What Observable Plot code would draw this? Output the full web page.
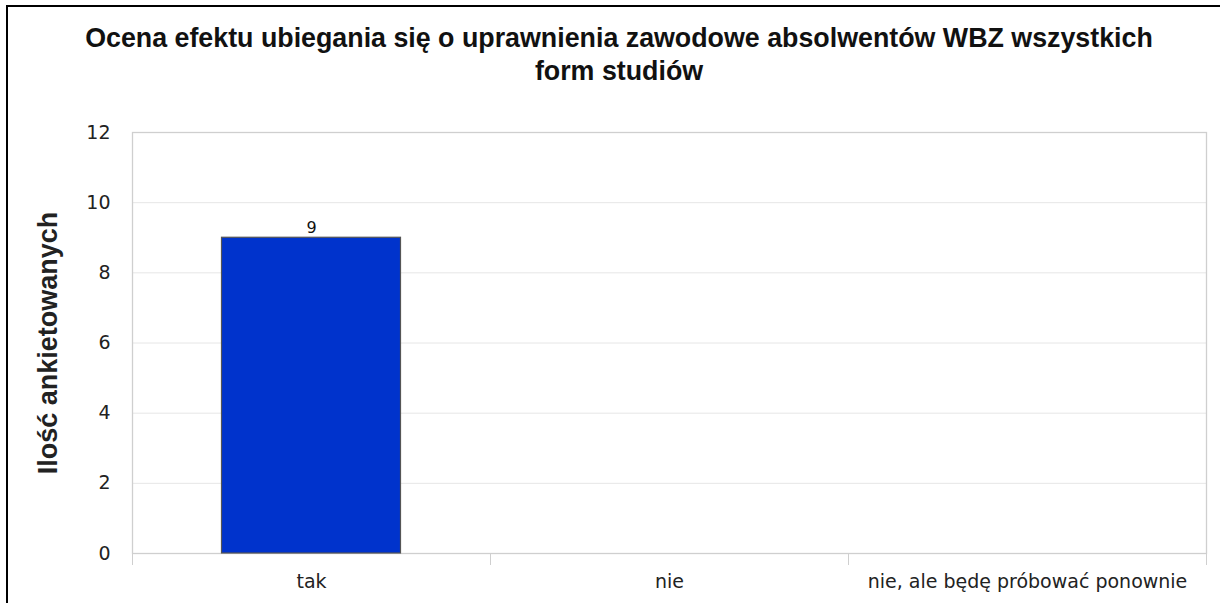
<!DOCTYPE html>
<html>
<head>
<meta charset="utf-8">
<script src="https://cdn.jsdelivr.net/npm/d3@7"></script>
<script src="https://cdn.jsdelivr.net/npm/@observablehq/plot@0.6"></script>
<style>
  html, body { margin: 0; padding: 0; background: #fff; }
  #wrap { position: relative; width: 1220px; height: 603px; overflow: hidden; background: #fff; }
  #border { position: absolute; left: 6px; top: 5px; width: 1300px; height: 700px; z-index: 2;
            border-left: 2px solid #000; border-top: 2px solid #000; box-sizing: border-box; pointer-events: none; }
  #title { position: absolute; left: 0; top: 22px; width: 1238px; text-align: center;
           font-family: "Liberation Sans", Arial, sans-serif; font-weight: bold;
           font-size: 26.8px; line-height: 33px; color: #111; }
  #chart { position: absolute; left: 0; top: 100px; }
</style>
</head>
<body>
<div id="wrap">
  <div id="border"></div>
  <div id="title"></div>
  <div id="chart"></div>
</div>
<script>
const titleLines = ["Ocena efektu ubiegania się o uprawnienia zawodowe absolwentów WBZ wszystkich", "form studiów"];
const yLabel = "Ilość ankietowanych";
const categories = ["tak", "nie", "nie, ale będę próbować ponownie"];
const values = [9, 0, 0];
const yTicks = [0, 2, 4, 6, 8, 10, 12];
const gridTicks = [2, 4, 6, 8, 10];

document.getElementById("title").innerHTML = titleLines.join("<br>");

const data = categories.map((c, i) => ({cat: c, value: values[i]}));

const W = 1220, H = 503;
const ML = 132, MR = 14, MT = 32, MB = 50;
const step = (W - ML - MR) / categories.length;

const chart = Plot.plot({
  width: W,
  height: H,
  marginLeft: ML,
  marginRight: MR,
  marginTop: MT,
  marginBottom: MB,
  style: {background: "transparent", fontFamily: "'DejaVu Sans', sans-serif", overflow: "visible"},
  x: {domain: categories, padding: 0},
  y: {domain: [0, 12]},
  marks: [
    Plot.ruleY(gridTicks, {stroke: "#e6e6e6", strokeWidth: 1}),
    Plot.frame({stroke: "#cfcfcf", strokeWidth: 1.3}),
    Plot.barY(data.filter(d => d.value > 0), {
      x: "cat", y: "value", fill: "#0033cc", stroke: "#555", strokeWidth: 1.2,
      insetLeft: step / 4, insetRight: step / 4
    }),
    Plot.text(data.filter(d => d.value > 0), {
      x: "cat", y: "value", text: d => String(d.value), lineAnchor: "bottom", dy: -5,
      fontSize: 16, fill: "#111"
    }),
    Plot.axisY({ticks: yTicks, tickSize: 0, tickPadding: 22, fontSize: 19, fill: "#222", label: null}),
    // category separators (at band boundaries)
    Plot.axisX({tickSize: 12, dx: -step / 2, tickFormat: () => "", stroke: "#cfcfcf", label: null}),
    Plot.axisX(categories.slice(-1), {tickSize: 12, dx: step / 2, tickFormat: () => "", stroke: "#cfcfcf", label: null}),
    Plot.axisX({tickSize: 0, tickPadding: 21, fontSize: 19, fill: "#222", label: null}),
    Plot.text([yLabel], {
      text: d => d, frameAnchor: "left", textAnchor: "middle", lineAnchor: "middle", rotate: -90, dx: -84,
      fontSize: 27, fontWeight: "bold", fill: "#222",
      fontFamily: "'Liberation Sans', Arial, sans-serif"
    })
  ]
});
document.getElementById("chart").appendChild(chart);
</script>
</body>
</html>
